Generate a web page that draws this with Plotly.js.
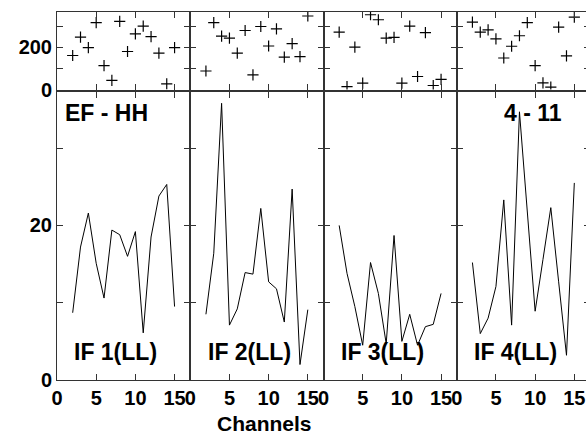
<!DOCTYPE html>
<html>
<head>
<meta charset="utf-8">
<script src="https://cdn.plot.ly/plotly-3.0.1.min.js"></script>
<style>
html,body{margin:0;padding:0;overflow:hidden;background:#fff;}
#chart{width:592px;height:434px;}
</style>
</head>
<body>
<div id="chart"></div>
<script>
// ---- data ----
const channels = [2,3,4,5,6,7,8,9,10,11,12,13,14,15];

// upper panels (scatter, '+')
const topIF1 = [162,249,199,318,114,43,324,181,265,302,252,173,27,199];
const topIF2 = [88,318,254,245,173,281,70,300,207,289,154,218,157,350];
const topIF3 = [273,14,202,30,356,332,245,248,30,302,62,271,19,48];
const topIF4 = [321,273,284,241,150,206,256,318,114,32,11,297,160,345];

// lower panels (lines)
const lowIF1 = [8.7,17.2,21.6,15.1,10.6,19.4,18.8,16.0,19.2,6.1,18.5,23.8,25.3,9.5];
const lowIF2 = [8.5,16.4,35.8,7.1,9.2,13.9,13.7,22.2,12.7,11.8,7.5,24.7,2.0,9.1];
const lowIF3 = [20.0,13.8,9.5,4.5,15.2,11.2,4.7,18.7,5.0,8.5,4.5,6.9,7.2,11.2];
const lowIF4 = [15.2,6.0,8.0,12.1,23.3,7.1,34.7,21.8,8.9,15.6,22.3,12.7,3.2,25.5];

const panelLabels = ["IF 1(LL)","IF 2(LL)","IF 3(LL)","IF 4(LL)"];
const xTickVals = [0,5,10,15];
const xTickText = ["0","5","10","15"];
const topTickVals = [0,100,200,300];
const topTickText = ["0","","200",""];
const lowTickVals = [0,10,20,30];
const lowTickText = ["0","","20",""];
const xAxisTitle = "Channels";
const sourceLabel = "EF - HH";
const timeLabel = "4 - 11";

// ---- build ----
const tops = [topIF1, topIF2, topIF3, topIF4];
const lows = [lowIF1, lowIF2, lowIF3, lowIF4];
const traces = [];
const layout = {
  width: 592, height: 434,
  margin: {l:57, r:2, t:12, b:54},
  paper_bgcolor: "#fff", plot_bgcolor: "#fff",
  showlegend: false,
  font: {family: "Liberation Sans, Arial, sans-serif", color: "#000"},
  annotations: []
};
const fontTick = {family: "Liberation Sans, Arial, sans-serif", size: 20, color: "#000", weight: "bold"};
const fontLab = {family: "Liberation Sans, Arial, sans-serif", size: 23, color: "#000", weight: "bold"};
const lineCol = "#333";
const topDom = [0.7894, 1];
const lowDom = [0, 0.7813];

for (let i = 0; i < 4; i++) {
  const bi = i + 1;          // bottom row axis index
  const ti = i + 5;          // top row axis index
  const xd = [i/4, (i+1)/4];
  const bx = bi === 1 ? "x" : "x" + bi, by = bi === 1 ? "y" : "y" + bi;
  const tx = "x" + ti, ty = "y" + ti;

  traces.push({x: channels, y: lows[i], xaxis: bx, yaxis: by, type: "scatter", mode: "lines",
    line: {color: "#000", width: 1}, hoverinfo: "skip"});
  traces.push({x: channels, y: tops[i], xaxis: tx, yaxis: ty, type: "scatter", mode: "markers",
    marker: {symbol: "cross-thin-open", size: 8, color: "#000", line: {color: "#000", width: 1.2}}, hoverinfo: "skip"});

  const common = {showline: true, linecolor: lineCol, linewidth: 1, mirror: "ticks",
    ticks: "inside", ticklen: 6, tickwidth: 1, tickcolor: lineCol, showgrid: false, zeroline: false,
    tickfont: fontTick};

  layout["xaxis" + (bi === 1 ? "" : bi)] = Object.assign({}, common, {
    domain: xd, anchor: by, range: [0, 17], tickmode: "array", tickvals: xTickVals, ticktext: xTickText,
    showticklabels: true});
  layout["yaxis" + (bi === 1 ? "" : bi)] = Object.assign({}, common, {
    domain: lowDom, anchor: bx, range: [0, 37.2], tickmode: "array", tickvals: lowTickVals, ticktext: lowTickText,
    showticklabels: i === 0});
  layout["xaxis" + ti] = Object.assign({}, common, {
    domain: xd, anchor: ty, range: [0, 17], tickmode: "array", tickvals: xTickVals, showticklabels: false});
  layout["yaxis" + ti] = Object.assign({}, common, {
    domain: topDom, anchor: tx, range: [0, 369], tickmode: "array", tickvals: topTickVals, ticktext: topTickText,
    showticklabels: i === 0});

  layout.annotations.push({text: panelLabels[i], xref: bx + " domain", yref: by + " domain",
    x: 0.116, y: 0.097, xanchor: "left", yanchor: "middle", showarrow: false, font: fontLab});
}
layout.annotations.push({text: sourceLabel, xref: "x domain", yref: "y domain",
  x: 0.045, y: 0.929, xanchor: "left", yanchor: "middle", showarrow: false, font: fontLab});
layout.annotations.push({text: timeLabel, xref: "x4 domain", yref: "y4 domain",
  x: 0.572, y: 0.929, xanchor: "center", yanchor: "middle", showarrow: false, font: fontLab});
layout.annotations.push({text: xAxisTitle, xref: "paper", yref: "paper",
  x: 0.39, y: -0.117, xanchor: "center", yanchor: "middle", showarrow: false,
  font: {family: "Liberation Sans, Arial, sans-serif", size: 21, color: "#000", weight: "bold"}});

Plotly.newPlot("chart", traces, layout, {staticPlot: true, displayModeBar: false});
</script>
</body>
</html>
